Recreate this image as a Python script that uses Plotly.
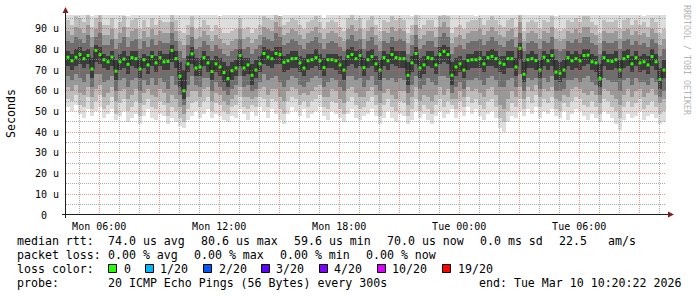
import math
import pandas as pd
import plotly.graph_objects as go

# ---------------- data ----------------
START = pd.Timestamp("2026-03-09 04:20:22")
END = pd.Timestamp("2026-03-10 10:20:22")
STEP_MIN = 12   # one sample every 12 minutes (4 px in the reference)

# median round-trip time, microseconds
median_us = [
    76.2, 74.5, 76.2, 77.5, 75.5, 77.0, 70.5, 79.5, 77.5, 75.0,
    74.0, 76.3, 69.5, 74.0, 75.3, 72.8, 76.0, 75.5, 70.5, 75.0,
    72.5, 76.5, 73.5, 76.0, 74.0, 74.2, 79.5, 75.5, 67.0, 60.0,
    73.0, 77.8, 71.0, 71.5, 76.0, 73.5, 69.3, 73.0, 71.5, 68.8,
    65.9, 69.7, 71.0, 77.0, 71.0, 72.5, 67.5, 70.0, 73.0, 78.0,
    76.3, 75.5, 78.0, 77.5, 73.8, 74.5, 75.5, 75.6, 73.5, 71.0,
    74.5, 75.0, 76.0, 74.5, 71.2, 75.0, 75.0, 74.5, 72.5, 70.0,
    76.5, 77.5, 75.5, 77.0, 71.2, 75.0, 76.5, 73.0, 70.0, 76.0,
    74.5, 77.5, 76.0, 75.5, 75.5, 67.5, 73.5, 78.0, 71.0, 72.5,
    76.0, 75.5, 72.5, 77.5, 79.0, 77.5, 67.5, 71.5, 73.0, 70.0,
    74.6, 75.0, 75.0, 75.5, 73.0, 76.0, 76.6, 75.5, 73.5, 72.8,
    75.5, 75.5, 71.5, 80.5, 68.0, 75.0, 75.5, 74.6, 70.0, 76.2,
    74.5, 77.0, 69.0, 68.5, 70.0, 76.0, 74.5, 75.5, 74.5, 77.0,
    77.2, 74.0, 73.5, 66.0, 76.0, 74.5, 74.2, 75.0, 70.0, 75.5,
    76.5, 73.0, 76.0, 73.5, 74.0, 72.5, 76.5, 74.0, 65.5, 70.0,
]

# smoke: ping-spread band edges, outer (1) to inner (5), microseconds
smoke_lo1 = [
    52, 50, 53, 49, 47, 51, 48, 50, 52, 47,
    49, 51, 46, 48, 50, 45, 47, 49, 44, 48,
    51, 47, 46, 49, 48, 44, 47, 45, 43, 42,
    46, 48, 50, 47, 49, 51, 47, 49, 48, 46,
    45, 48, 47, 51, 49, 46, 50, 48, 52, 50,
    47, 51, 49, 46, 44, 49, 52, 50, 48, 51,
    47, 49, 50, 52, 48, 46, 50, 49, 47, 45,
    49, 51, 47, 46, 48, 49, 51, 48, 44, 47,
    50, 47, 45, 49, 48, 44, 46, 50, 47, 49,
    46, 44, 48, 50, 47, 49, 51, 47, 50, 48,
    52, 49, 51, 48, 46, 49, 50, 47, 42, 40,
    45, 48, 47, 50, 48, 51, 49, 52, 47, 50,
    49, 51, 48, 47, 50, 46, 49, 51, 50, 48,
    46, 49, 47, 45, 50, 49, 47, 44, 41, 46,
    49, 47, 48, 50, 46, 48, 49, 47, 44, 45,
]
smoke_lo2 = [
    56, 55, 58, 53, 52, 57, 51, 55, 58, 51,
    53, 57, 49, 54, 56, 50, 52, 55, 48, 53,
    56, 52, 51, 55, 53, 48, 52, 50, 47, 45,
    51, 54, 55, 52, 55, 57, 50, 54, 53, 50,
    49, 52, 53, 57, 52, 51, 53, 52, 57, 56,
    52, 56, 55, 51, 49, 55, 57, 56, 53, 55,
    52, 55, 56, 58, 52, 51, 55, 54, 51, 49,
    55, 57, 53, 51, 52, 55, 57, 53, 48, 53,
    56, 52, 50, 55, 54, 48, 51, 56, 50, 53,
    51, 49, 53, 56, 52, 55, 53, 51, 55, 52,
    57, 54, 56, 53, 51, 55, 56, 52, 47, 45,
    50, 54, 52, 56, 51, 57, 54, 58, 52, 56,
    54, 57, 51, 50, 54, 52, 55, 57, 56, 53,
    52, 55, 52, 49, 56, 55, 52, 50, 47, 52,
    55, 52, 54, 56, 51, 53, 55, 52, 49, 50,
]
smoke_lo3 = [
    62, 60, 63, 59, 58, 62, 57, 61, 63, 57,
    59, 62, 55, 60, 61, 56, 58, 61, 54, 59,
    61, 58, 57, 61, 59, 54, 58, 56, 52, 49,
    57, 60, 60, 57, 61, 62, 55, 59, 58, 55,
    53, 56, 58, 62, 57, 57, 56, 57, 61, 62,
    58, 61, 61, 57, 55, 60, 62, 61, 58, 59,
    58, 60, 62, 63, 57, 57, 61, 60, 56, 54,
    61, 62, 59, 57, 57, 60, 62, 58, 54, 59,
    61, 58, 56, 60, 60, 53, 57, 62, 55, 58,
    57, 55, 58, 62, 58, 61, 56, 56, 60, 57,
    62, 60, 61, 59, 57, 61, 62, 58, 53, 51,
    56, 60, 57, 62, 56, 62, 60, 63, 57, 61,
    60, 62, 56, 55, 58, 57, 61, 62, 61, 59,
    58, 60, 58, 54, 61, 60, 58, 56, 53, 58,
    61, 57, 60, 61, 57, 59, 61, 58, 54, 56,
]
smoke_lo4 = [
    67, 65, 68, 66, 64, 68, 62, 68, 68, 64,
    65, 67, 60, 65, 66, 62, 65, 66, 60, 65,
    63, 66, 63, 66, 64, 61, 67, 63, 58, 53,
    63, 67, 63, 62, 66, 66, 60, 64, 62, 60,
    58, 61, 63, 67, 62, 63, 60, 61, 64, 68,
    65, 66, 67, 64, 62, 65, 67, 66, 63, 62,
    64, 66, 67, 66, 62, 64, 66, 65, 62, 60,
    67, 67, 65, 66, 62, 65, 67, 63, 60, 66,
    65, 66, 64, 66, 65, 59, 63, 67, 61, 63,
    66, 64, 63, 67, 67, 66, 59, 62, 64, 61,
    65, 65, 66, 65, 63, 66, 67, 65, 62, 62,
    65, 66, 62, 68, 60, 66, 65, 66, 61, 66,
    64, 67, 60, 60, 61, 65, 65, 66, 64, 66,
    67, 64, 63, 58, 66, 65, 64, 64, 60, 65,
    66, 63, 66, 64, 64, 63, 66, 64, 57, 60,
]
smoke_lo5 = [
    72, 70, 72, 73, 71, 73, 66, 74, 73, 71,
    70, 72, 65, 70, 71, 68, 72, 71, 66, 71,
    68, 72, 69, 72, 70, 70, 74, 71, 62, 56,
    69, 73, 67, 67, 72, 69, 65, 69, 67, 64,
    62, 65, 67, 72, 67, 68, 63, 66, 69, 73,
    72, 71, 73, 73, 69, 70, 71, 71, 69, 67,
    70, 71, 72, 70, 67, 71, 71, 70, 68, 65,
    72, 73, 71, 72, 67, 71, 72, 69, 65, 72,
    70, 73, 72, 71, 71, 63, 69, 73, 66, 68,
    72, 71, 68, 73, 74, 73, 63, 67, 69, 66,
    70, 71, 71, 71, 69, 72, 72, 71, 69, 68,
    71, 71, 67, 75, 64, 71, 71, 70, 66, 72,
    70, 72, 65, 64, 66, 72, 70, 71, 70, 72,
    73, 70, 69, 62, 72, 70, 70, 71, 66, 71,
    72, 69, 72, 69, 70, 68, 72, 70, 61, 66,
]
smoke_hi5 = [
    79, 78, 80, 81, 79, 80, 76, 82, 81, 78,
    77, 79, 75, 78, 79, 77, 79, 79, 76, 78,
    77, 79, 77, 79, 78, 78, 82, 79, 74, 70,
    77, 81, 76, 76, 79, 77, 75, 77, 76, 74,
    72, 74, 75, 80, 76, 76, 73, 75, 77, 81,
    80, 79, 81, 81, 77, 78, 79, 79, 77, 76,
    78, 78, 80, 78, 76, 78, 78, 78, 77, 75,
    80, 81, 79, 80, 76, 79, 80, 77, 75, 79,
    78, 81, 79, 79, 79, 74, 77, 81, 76, 77,
    79, 79, 77, 81, 82, 81, 74, 76, 77, 75,
    78, 78, 79, 79, 77, 79, 80, 79, 77, 77,
    79, 79, 76, 83, 74, 78, 79, 78, 75, 79,
    78, 80, 75, 74, 75, 79, 78, 79, 78, 80,
    80, 78, 77, 73, 79, 78, 78, 79, 75, 79,
    80, 77, 79, 77, 78, 77, 80, 78, 71, 75,
]
smoke_hi4 = [
    84, 83, 86, 85, 83, 87, 81, 86, 88, 82,
    82, 85, 80, 83, 86, 81, 84, 85, 80, 84,
    81, 85, 82, 84, 83, 83, 88, 84, 79, 76,
    82, 86, 80, 81, 84, 82, 79, 82, 80, 78,
    77, 79, 80, 85, 80, 81, 78, 80, 82, 86,
    85, 84, 88, 86, 82, 83, 85, 84, 82, 80,
    83, 84, 86, 83, 80, 83, 84, 83, 81, 79,
    85, 87, 84, 85, 80, 84, 86, 82, 79, 84,
    83, 86, 84, 85, 84, 78, 82, 87, 80, 82,
    84, 84, 81, 86, 88, 86, 78, 81, 82, 80,
    83, 84, 84, 85, 82, 84, 86, 84, 82, 81,
    84, 85, 81, 88, 79, 83, 84, 83, 80, 84,
    83, 86, 80, 79, 80, 84, 83, 85, 83, 86,
    86, 83, 82, 78, 84, 83, 83, 84, 80, 84,
    85, 82, 84, 82, 83, 81, 85, 83, 77, 80,
]
smoke_hi3 = [
    89, 87, 91, 90, 88, 92, 86, 90, 93, 87,
    87, 90, 85, 88, 91, 86, 89, 90, 85, 89,
    86, 90, 87, 89, 88, 88, 93, 89, 84, 82,
    87, 91, 85, 86, 89, 87, 84, 87, 85, 83,
    82, 84, 85, 90, 85, 86, 83, 85, 87, 91,
    90, 89, 93, 91, 87, 88, 90, 89, 87, 85,
    88, 89, 91, 88, 85, 88, 89, 88, 86, 84,
    90, 92, 89, 90, 85, 89, 91, 87, 84, 89,
    88, 91, 89, 90, 89, 83, 87, 92, 85, 87,
    89, 89, 86, 91, 93, 91, 83, 86, 87, 85,
    88, 89, 89, 90, 87, 89, 91, 89, 87, 86,
    89, 90, 86, 93, 84, 88, 89, 88, 85, 89,
    88, 91, 85, 84, 85, 89, 88, 90, 88, 91,
    91, 88, 87, 83, 89, 88, 88, 89, 85, 89,
    90, 87, 89, 87, 88, 86, 90, 88, 82, 85,
]
smoke_hi2 = [
    94, 92, 96, 95, 93, 97, 91, 95, 97, 92,
    92, 95, 90, 93, 96, 91, 94, 95, 90, 94,
    91, 95, 92, 94, 93, 93, 97, 94, 89, 88,
    92, 96, 90, 91, 94, 92, 89, 92, 90, 88,
    88, 89, 90, 95, 90, 91, 88, 90, 92, 96,
    95, 94, 97, 96, 92, 93, 95, 94, 92, 90,
    93, 94, 96, 93, 90, 93, 94, 93, 91, 89,
    95, 97, 94, 95, 90, 94, 96, 92, 89, 94,
    93, 96, 94, 95, 94, 88, 92, 97, 90, 92,
    94, 94, 91, 96, 97, 96, 88, 91, 92, 90,
    93, 94, 94, 95, 92, 94, 96, 94, 92, 91,
    94, 95, 91, 97, 89, 93, 94, 93, 90, 94,
    93, 96, 90, 89, 90, 94, 93, 95, 93, 96,
    96, 93, 92, 88, 94, 93, 93, 94, 90, 94,
    95, 92, 94, 92, 93, 91, 95, 93, 88, 90,
]
smoke_hi1 = [
    100, 100, 99, 100, 100, 100, 96, 100, 100, 100,
    100, 100, 99, 100, 100, 96, 100, 100, 100, 100,
    100, 99, 100, 100, 100, 100, 100, 100, 100, 100,
    100, 100, 100, 100, 100, 100, 100, 100, 96, 100,
    100, 100, 100, 100, 100, 100, 100, 100, 100, 100,
    100, 100, 100, 96, 100, 100, 100, 100, 100, 100,
    100, 100, 100, 100, 95, 100, 100, 100, 100, 100,
    100, 100, 100, 100, 100, 100, 100, 100, 100, 100,
    100, 100, 100, 100, 100, 100, 96, 100, 100, 100,
    100, 100, 100, 100, 100, 100, 100, 100, 100, 100,
    100, 100, 96, 100, 100, 100, 100, 100, 100, 100,
    100, 100, 100, 100, 100, 100, 100, 100, 100, 100,
    100, 100, 96, 100, 100, 100, 100, 100, 100, 100,
    100, 100, 100, 100, 100, 100, 100, 100, 100, 100,
    100, 100, 100, 100, 96, 100, 100, 100, 100, 100,
]

smoke_colors = ["#dddddd", "#bdbdbd", "#999999", "#6e6e6e", "#3c3c3c"]

y_tick_vals = [0, 10, 20, 30, 40, 50, 60, 70, 80, 90]
y_tick_text = ["0\u00a0\u00a0", "10 u", "20 u", "30 u", "40 u", "50 u", "60 u", "70 u", "80 u", "90 u"]
y_minor_vals = [5, 15, 25, 35, 45, 55, 65, 75, 85, 95]
Y_MAX = 96.6

x_major = list(pd.date_range("2026-03-09 06:00", "2026-03-10 09:00", freq="3h"))
x_major_text = ["Mon 06:00", "", "Mon 12:00", "", "Mon 18:00", "", "Tue 00:00", "", "Tue 06:00", ""]
x_minor = list(pd.date_range("2026-03-09 05:00", "2026-03-10 10:00", freq="1h"))

loss_labels = ["0", "1/20", "2/20", "3/20", "4/20", "10/20", "19/20"]
loss_colors = ["#26ff00", "#00b8ff", "#0059ff", "#5e00ff", "#7e00ff", "#dd00ff", "#ff0000"]

# ---------------- figure ----------------
W, H = 697, 297
L, R, T, B = 66, 31, 15, 82
PW, PH = W - L - R, H - T - B


def px(xp):
    return (xp - L) / PW


def py(yp):
    return (T + PH - yp) / PH


# grid lines snapped to whole device pixels so the 1px dots stay crisp
def grid_x_paper(t):
    xp = L + (t - START) / (END - START) * PW
    return px(math.floor(xp) + 0.5)


def grid_y_paper(v):
    yp = T + PH - v / Y_MAX * PH
    return py(math.floor(yp) + 0.5)


MONO = "DejaVu Sans Mono"
fig = go.Figure()

times = [START + pd.Timedelta(minutes=STEP_MIN * (i + 0.5)) for i in range(len(median_us))]
bands = [(smoke_lo1, smoke_hi1), (smoke_lo2, smoke_hi2), (smoke_lo3, smoke_hi3),
         (smoke_lo4, smoke_hi4), (smoke_lo5, smoke_hi5)]
for (lo, hi), col in zip(bands, smoke_colors):
    fig.add_trace(go.Bar(
        x=times, base=lo, y=[h - l for l, h in zip(lo, hi)],
        width=STEP_MIN * 60 * 1000, marker=dict(color=col, line=dict(width=0)),
        showlegend=False, hoverinfo="skip"))

fig.add_trace(go.Scatter(x=times, y=median_us, mode="lines",
                         line=dict(color="#202020", width=1, shape="hvh"),
                         showlegend=False, hoverinfo="skip"))
fig.add_trace(go.Scatter(x=times, y=median_us, mode="markers",
                         marker=dict(symbol="square", size=3, color=loss_colors[0], line=dict(width=0)),
                         showlegend=False, hoverinfo="skip"))

shapes = []
GRAY = "rgba(143,143,143,0.75)"
PINK = "rgba(222,79,79,0.6)"
for t in x_minor:
    if t in x_major:
        continue
    gx = grid_x_paper(t)
    shapes.append(dict(type="line", xref="paper", yref="paper", x0=gx, x1=gx, y0=0, y1=1,
                       line=dict(color=GRAY, width=1, dash="1px,1px"), layer="above"))
for v in y_minor_vals:
    gy = grid_y_paper(v)
    shapes.append(dict(type="line", xref="paper", yref="paper", x0=0, x1=1, y0=gy, y1=gy,
                       line=dict(color=GRAY, width=1, dash="1px,1px"), layer="above"))
for t in x_major:
    gx = grid_x_paper(t)
    shapes.append(dict(type="line", xref="paper", yref="paper", x0=gx, x1=gx, y0=0, y1=1,
                       line=dict(color=PINK, width=1, dash="1px,1px"), layer="above"))
for v in y_tick_vals[1:]:
    gy = grid_y_paper(v)
    shapes.append(dict(type="line", xref="paper", yref="paper", x0=0, x1=1, y0=gy, y1=gy,
                       line=dict(color=PINK, width=1, dash="1px,1px"), layer="above"))

# axis lines and arrows
ARROW = "#801f1f"
shapes.append(dict(type="line", xref="paper", yref="paper", x0=px(62), x1=px(669), y0=py(214.5), y1=py(214.5),
                   line=dict(color="#1f1f1f", width=1), layer="above"))
shapes.append(dict(type="line", xref="paper", yref="paper", x0=px(65.5), x1=px(65.5), y0=py(218), y1=py(12),
                   line=dict(color="#1f1f1f", width=1), layer="above"))
shapes.append(dict(type="path", xref="paper", yref="paper",
                   path=f"M {px(62.5)} {py(13)} L {px(68.5)} {py(13)} L {px(65.5)} {py(7)} Z",
                   fillcolor=ARROW, line=dict(width=0), layer="above"))
shapes.append(dict(type="path", xref="paper", yref="paper",
                   path=f"M {px(668)} {py(211.5)} L {px(668)} {py(217.5)} L {px(674)} {py(214.5)} Z",
                   fillcolor=ARROW, line=dict(width=0), layer="above"))

# loss-colour legend boxes
box_x = [108.5, 145.5, 203.5, 261.5, 319.5, 377.5, 442.5]
label_x = [122.5, 159, 217.5, 275, 333, 391, 456.5]
for bx, col in zip(box_x, loss_colors):
    shapes.append(dict(type="rect", xref="paper", yref="paper",
                       x0=px(bx), x1=px(bx + 8), y0=py(272.5), y1=py(264.5),
                       fillcolor=col, line=dict(color="black", width=1), layer="above"))

ann = []
FS = 11.6


def txt(x, y, s, size=FS, color="black"):
    ann.append(dict(x=px(x), y=py(y), xref="paper", yref="paper", text=s, showarrow=False,
                    xanchor="left", yanchor="middle",
                    font=dict(family=MONO, size=size, color=color), borderpad=0))


line1 = [(16, "median rtt:"), (107, "74.0 us avg"), (200, "80.6 us max"), (293, "59.6 us min"),
         (386, "70.0 us now"), (479, "0.0 ms sd"), (558, "22.5"), (607, "am/s")]
line2 = [(16, "packet loss:"), (107, "0.00 % avg"), (193, "0.00 % max"), (279, "0.00 % min"),
         (365, "0.00 % now")]
line4 = [(16, "probe:"), (107, "20 ICMP Echo Pings (56 Bytes) every 300s"),
         (478, "end: Tue Mar 10 10:20:22 2026")]
for x, s in line1:
    txt(x, 241, s)
for x, s in line2:
    txt(x, 255, s)
txt(16, 269, "loss color:")
for x, s in zip(label_x, loss_labels):
    txt(x, 269, s)
for x, s in line4:
    txt(x, 283.3, s)

ann.append(dict(x=px(11), y=py(114), xref="paper", yref="paper", text="Seconds", showarrow=False,
                textangle=-90, xanchor="center", yanchor="middle",
                font=dict(family=MONO, size=FS, color="black")))
ann.append(dict(x=px(687), y=py(60), xref="paper", yref="paper", text="RRDTOOL / TOBI OETIKER",
                showarrow=False, textangle=90, xanchor="center", yanchor="middle",
                font=dict(family=MONO, size=8.3, color="#b4b4b4")))

fig.update_layout(
    width=W, height=H, margin=dict(l=L, r=R, t=T, b=B, pad=0),
    paper_bgcolor="white", plot_bgcolor="white",
    barmode="overlay", bargap=0, showlegend=False,
    shapes=shapes, annotations=ann,
    xaxis=dict(type="date", range=[START, END], tickvals=x_major, ticktext=x_major_text,
               showgrid=False, zeroline=False, showline=False, ticks="",
               tickfont=dict(family=MONO, size=10, color="black"), ticklabelstandoff=4),
    yaxis=dict(range=[0, Y_MAX], tickvals=y_tick_vals, ticktext=y_tick_text,
               showgrid=False, zeroline=False, showline=False, ticks="",
               tickfont=dict(family=MONO, size=10, color="black"), ticklabelstandoff=6),
)

fig.write_html("out.html")
